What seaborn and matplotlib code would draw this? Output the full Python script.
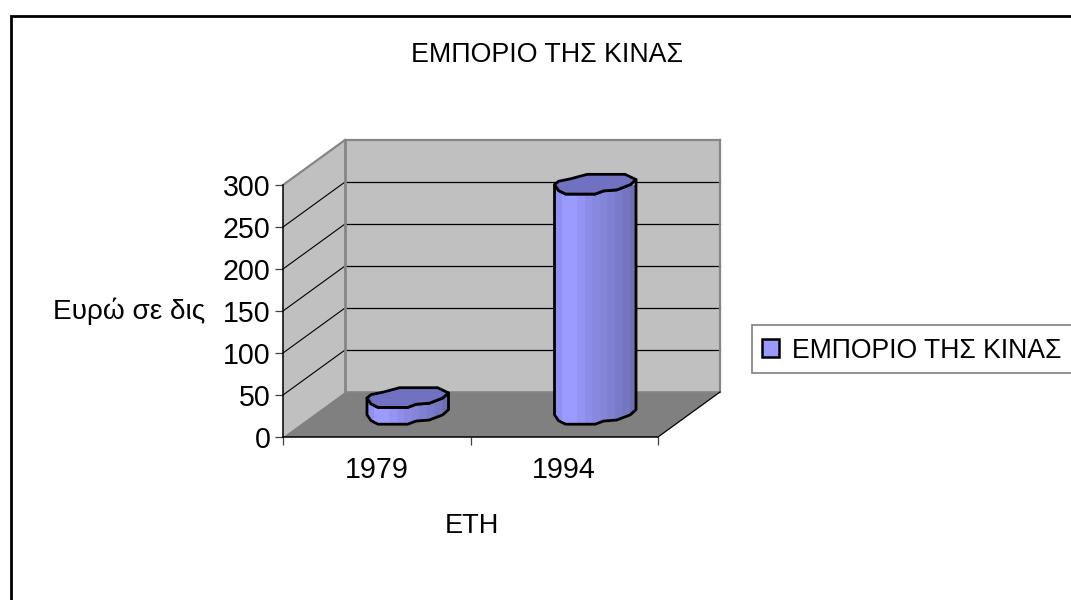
import numpy as np
import matplotlib
matplotlib.use("Agg")
import matplotlib.pyplot as plt
from matplotlib.patches import Polygon, Rectangle, Patch
from matplotlib.colors import to_rgb
from matplotlib.transforms import Affine2D
import seaborn as sns

# --- data ---
years = ["1979", "1994"]
trade_values = [20, 274]
y_ticks = [0, 50, 100, 150, 200, 250, 300]
title_text = "ΕΜΠΟΡΙΟ ΤΗΣ ΚΙΝΑΣ"
y_label = "Ευρώ σε δις"
x_label = "ΕΤΗ"

# --- style ---
W, H = 1071, 600
sns.set_theme(style="white")
plt.rcParams["font.family"] = ["Liberation Sans", "DejaVu Sans"]
WALL, FLOOR, EDGE = "#C0C0C0", "#808080", "#868686"
BAR, BAR_TOP = "#9999FF", "#7171C2"
YMAX = 300
px_x = 375 / 2.0      # pixels per category
px_y = 252 / YMAX     # pixels per value unit
DX, DY = 62 / px_x, 45 / px_y    # depth of the 3D box in data units
ELL = 10 / px_y       # half height of the cylinder ends
BAR_W = 81.5 / px_x

# irregular end outline of the low-resolution cylinder (u across, v down)
RIM_BACK = [(-1, 0.03), (-0.9, -0.31), (-0.61, -0.55), (-0.2, -1), (0.73, -1), (1, -0.48)]
RIM_FRONT = [(1, -0.48), (0.86, 0.03), (0.53, 0.55), (0.2, 0.66), (0, 0.97),
             (-0.73, 0.97), (-0.9, 0.62), (-1, 0.03)]
SHADE = ["#9090F0", "#9A9AFF", "#9A9AFF", "#9494F4", "#8E8EEA", "#8888E0", "#8484D8",
         "#8080D2", "#7A7ACA", "#7676C0", "#6E6EB4"]

fig = plt.figure(figsize=(W / 100, H / 100), dpi=100, facecolor="white")
ax = fig.add_axes([283 / W, (H - 437) / H, 375 / W, 252 / H])
ax.set_facecolor("none")

sns.barplot(x=years, y=trade_values, ax=ax, color=BAR, saturation=1, width=BAR_W,
            linewidth=0, zorder=3)
bars = list(ax.patches)

X0, X1 = -0.5, len(years) - 0.5
ax.set_xlim(X0, X1)
ax.set_ylim(0, YMAX)


def solid(pts, color, z):
    ax.add_patch(Polygon(pts, closed=True, facecolor=color, edgecolor="none",
                         clip_on=False, zorder=z))


def seg(xs, ys, color, lw, z):
    ax.plot(xs, ys, color=color, lw=lw, clip_on=False, zorder=z, solid_capstyle="projecting")


# walls and floor
solid([(X0, 0), (X0, YMAX), (X0 + DX, YMAX + DY), (X0 + DX, DY)], WALL, 0.5)
solid([(X0 + DX, DY), (X0 + DX, YMAX + DY), (X1 + DX, YMAX + DY), (X1 + DX, DY)], WALL, 0.5)
solid([(X0, 0), (X1, 0), (X1 + DX, DY), (X0 + DX, DY)], FLOOR, 0.6)

# gridlines on both walls
for t in y_ticks[1:-1]:
    seg([X0 + DX, X1 + DX], [t + DY, t + DY], "black", 0.9, 1)
    seg([X0, X0 + DX], [t, t + DY], "black", 0.8, 1)

# wall edges
seg([X0, X0 + DX], [YMAX, YMAX + DY], EDGE, 1.6, 1.5)
seg([X0 + DX, X0 + DX], [DY, YMAX + DY], EDGE, 2.0, 1.5)
seg([X0 + DX, X1 + DX], [YMAX + DY, YMAX + DY], EDGE, 1.6, 1.5)
seg([X1 + DX, X1 + DX], [DY, YMAX + DY], EDGE, 1.6, 1.5)
seg([X0 + DX, X1 + DX], [DY, DY], EDGE, 1.2, 1.5)
seg([X1, X1 + DX], [0, DY], "black", 0.9, 1.6)

# cylinders, built on the bars that seaborn drew, moved to mid depth
T = Affine2D().translate(DX / 2, DY / 2) + ax.transData
grad = np.array([[to_rgb(c) for c in SHADE]])
for bar in bars:
    cx = bar.get_x() + bar.get_width() / 2
    hw = bar.get_width() / 2
    top = bar.get_height()
    rim = lambda pts, y: [(cx + u * hw, y - v * ELL) for u, v in pts]
    body_pts = rim(RIM_FRONT, 0) + rim(RIM_FRONT[::-1], top)
    outline = Polygon(body_pts, closed=True, facecolor="none", edgecolor="black", lw=2.0,
                      joinstyle="round", transform=T, clip_on=False, zorder=3.2)
    ax.add_patch(outline)
    bar.set_transform(T)
    bar.set_clip_path(outline)
    im = ax.imshow(grad, extent=[cx - hw, cx + hw, -ELL, top + ELL], aspect="auto",
                   transform=T, zorder=3.1, interpolation="nearest")
    im.set_clip_path(outline)
    ax.add_patch(Polygon(rim(RIM_BACK + RIM_FRONT[1:], top), closed=True, facecolor=BAR_TOP,
                         edgecolor="black", lw=2.0, joinstyle="round", transform=T,
                         clip_on=False, zorder=3.3))
ax.set_xlim(X0, X1)
ax.set_ylim(0, YMAX)

# axes
for s in ("top", "right"):
    ax.spines[s].set_visible(False)
for s in ("left", "bottom"):
    ax.spines[s].set_visible(True)
    ax.spines[s].set_color("black")
    ax.spines[s].set_linewidth(1.1)
    ax.spines[s].set_zorder(2)
ax.set_yticks(y_ticks)
ax.set_xticks(range(len(years)))
ax.set_xticklabels(years)
ax.set_xticks(np.arange(X0, X1 + 0.5), minor=True)
ax.tick_params(axis="y", length=6, width=0.9, color="#404040", pad=3, labelsize=20.6,
               left=True, labelcolor="black")
ax.tick_params(axis="x", which="major", length=0, pad=14, labelsize=20.6, labelcolor="black")
ax.tick_params(axis="x", which="minor", length=6, width=0.9, color="#404040", bottom=True)
ax.set_xlabel("")
ax.set_ylabel("")

# texts
fig.text(547 / W, 1 - 62 / H, title_text, ha="center", va="baseline", fontsize=19.3, color="black")
fig.text(129 / W, 1 - 319 / H, y_label, ha="center", va="baseline", fontsize=20.2, color="black")
fig.text(472 / W, 1 - 533 / H, x_label, ha="center", va="baseline", fontsize=19.5, color="black")

# outer frame (runs past the picture on the right and at the bottom)
fig.add_artist(Rectangle((10.8 / W, 1 - 620 / H), 1100 / W, 604 / H, transform=fig.transFigure,
                         facecolor="none", edgecolor="black", lw=2.0))

# legend box and legend
fig.add_artist(Rectangle((752 / W, 1 - 373 / H), 340 / W, 48 / H, transform=fig.transFigure,
                         facecolor="white", edgecolor="#808080", lw=1.2, zorder=4))
leg = fig.legend(handles=[Patch(facecolor=BAR, edgecolor="black", lw=1.8, label=title_text)],
                 loc="center left", bbox_to_anchor=(762 / W, 1 - 350.5 / H), frameon=False,
                 fontsize=19.2, labelcolor="black", handlelength=0.64, handleheight=0.64,
                 handletextpad=0.49, borderpad=0, borderaxespad=0)
leg.set_zorder(5)

fig.savefig("out.png", dpi=100)
